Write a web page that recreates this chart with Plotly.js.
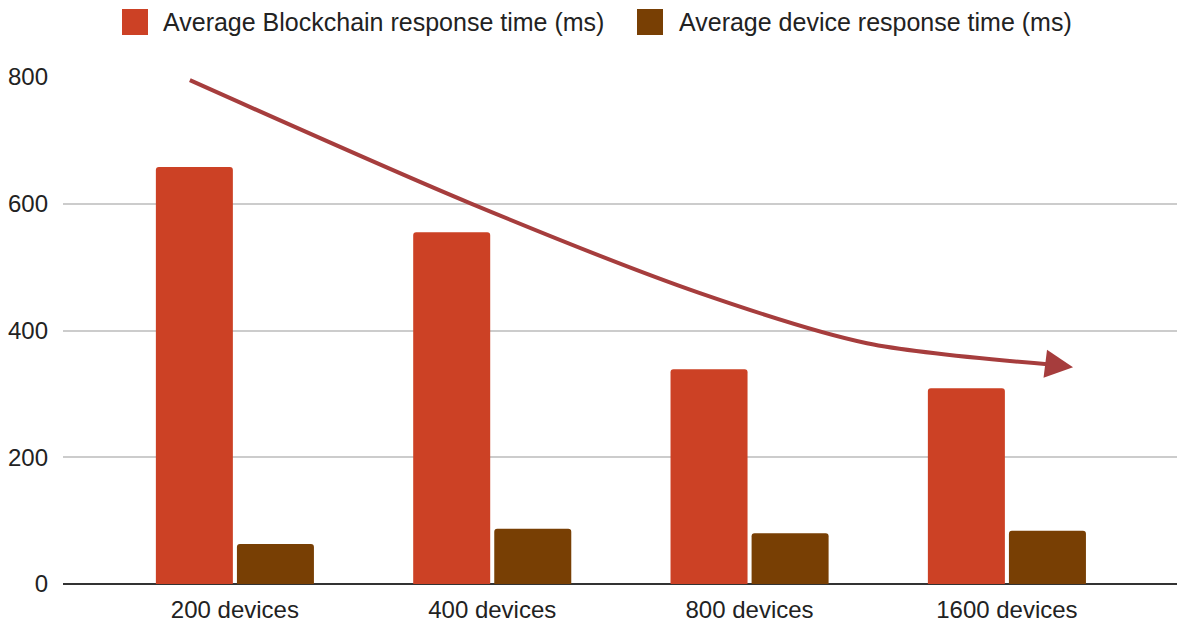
<!DOCTYPE html>
<html>
<head>
<meta charset="utf-8">
<script src="https://cdn.plot.ly/plotly-3.0.1.min.js"></script>
<style>html,body{margin:0;padding:0;background:#fff;}#chart{width:1177px;height:624px;}</style>
</head>
<body>
<div id="chart"></div>
<script>
// Data
const categories = ["200 devices", "400 devices", "800 devices", "1600 devices"];
const seriesNames = ["Average Blockchain response time (ms)", "Average device response time (ms)"];
const blockchainTimes = [658, 555, 339, 309];
const deviceTimes = [63, 87, 80, 84];
const yTickValues = [0, 200, 400, 600, 800];
// Trend arrow path (category index, value)
const trendX = [-0.175, 0.913, 1.807, 2.456, 3.179];
const trendY = [795, 601, 459, 380, 346];
const arrowTip = [3.257, 342];

const colors = ["#cc4125", "#783f04"];
const arrowColor = "#a63d3d";
const font = "Arial, 'Liberation Sans', sans-serif";
const fs = 24;

const traces = [
  {type: "bar", x: categories, y: blockchainTimes, name: seriesNames[0],
   marker: {color: colors[0], cornerradius: 3}, showlegend: false, hoverinfo: "y"},
  {type: "bar", x: categories, y: deviceTimes, name: seriesNames[1],
   marker: {color: colors[1], cornerradius: 3}, showlegend: false, hoverinfo: "y"},
  {type: "scatter", mode: "lines", x: trendX, y: trendY, xaxis: "x2", yaxis: "y",
   line: {color: arrowColor, width: 4, shape: "spline", smoothing: 0.8}, showlegend: false, hoverinfo: "skip"}
];

const xRange = [-0.668, 3.661];

const layout = {
  width: 1177, height: 624,
  margin: {l: 63, r: 0, t: 77, b: 40},
  paper_bgcolor: "#fff", plot_bgcolor: "#fff",
  font: {family: font, size: fs, color: "#222"},
  barmode: "group", bargap: 0.37, bargroupgap: 0.05,
  xaxis: {type: "category", range: xRange, showgrid: false, showline: false, zeroline: false,
          ticks: "", tickfont: {size: fs, color: "#222"}, ticklabelstandoff: 9},
  xaxis2: {type: "linear", range: xRange, overlaying: "x", visible: false},
  yaxis: {range: [0, 800], tickvals: yTickValues, showgrid: true, gridcolor: "#cccccc", gridwidth: 1.5,
          zeroline: true, zerolinecolor: "#333", zerolinewidth: 2, showline: false, ticks: "",
          tickfont: {size: fs, color: "#222"}, ticklabelstandoff: 14},
  shapes: [],
  annotations: [
    {x: arrowTip[0], y: arrowTip[1], xref: "x2", yref: "y",
     ax: trendX[trendX.length-1], ay: trendY[trendY.length-1], axref: "x2", ayref: "y",
     showarrow: true, arrowhead: 2, arrowsize: 1.4, arrowwidth: 4, arrowcolor: arrowColor, text: "", standoff: 0}
  ]
};

// Custom legend (pixel positions converted to paper coords)
const plotL = 63, plotW = 1114, plotT = 77, plotH = 507;
function px(x){ return (x - plotL) / plotW; }
function py(y){ return (plotT + plotH - y) / plotH; }
const legendItems = [
  {sx0: 122, sx1: 148, tx: 161},
  {sx0: 637, sx1: 663, tx: 677}
];
legendItems.forEach((it, i) => {
  layout.shapes.push({type: "rect", xref: "paper", yref: "paper", x0: px(it.sx0), x1: px(it.sx1),
    y0: py(35), y1: py(9), fillcolor: colors[i], line: {width: 0}, layer: "above"});
  layout.annotations.push({xref: "paper", yref: "paper", x: px(it.tx), y: py(22), xanchor: "left", yanchor: "middle",
    text: seriesNames[i], showarrow: false, font: {size: 25, color: "#222", family: font}});
});

Plotly.newPlot("chart", traces, layout, {displayModeBar: false, responsive: false});
</script>
</body>
</html>
